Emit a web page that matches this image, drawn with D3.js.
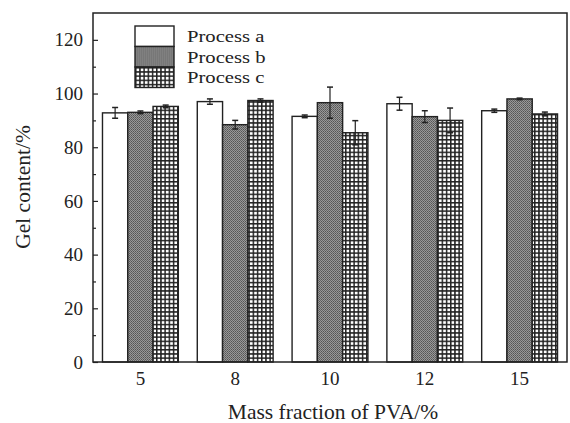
<!DOCTYPE html>
<html>
<head>
<meta charset="utf-8">
<script src="https://cdn.jsdelivr.net/npm/d3@7"></script>
<style>
  body { margin: 0; background: #fff; }
  text { font-family: "Liberation Serif", "Times New Roman", serif; fill: #222; }
</style>
</head>
<body>
<div id="chart"></div>
<script>
// data
const massFractions = ["5", "8", "10", "12", "15"];
const processes = ["Process a", "Process b", "Process c"];
const processA = [92.8, 97.0, 91.5, 96.2, 93.6];
const processB = [93.0, 88.4, 96.6, 91.4, 98.0];
const processC = [95.2, 97.4, 85.4, 90.0, 92.4];
const errA = [2.0, 1.0, 0.5, 2.4, 0.6];
const errB = [0.5, 1.6, 5.8, 2.2, 0.3];
const errC = [0.5, 0.6, 4.5, 4.6, 0.7];
const yTicks = [0, 20, 40, 60, 80, 100, 120];
const yMinor = [10, 30, 50, 70, 90, 110];

const W = 570, H = 423;
const margin = { top: 13, right: 3, bottom: 61, left: 93 },
  width = W - margin.left - margin.right,
  height = H - margin.top - margin.bottom;

const svg = d3
  .select("#chart")
  .append("svg")
  .attr("width", W)
  .attr("height", H);

// patterns for the three processes
const defs = svg.append("defs");
const pb = defs.append("pattern")
  .attr("id", "patB")
  .attr("patternUnits", "userSpaceOnUse")
  .attr("width", 2)
  .attr("height", 2);
pb.append("rect").attr("width", 2).attr("height", 2).attr("fill", "#999");
pb.append("rect").attr("width", 1).attr("height", 1).attr("fill", "#555");
pb.append("rect").attr("x", 1).attr("y", 1).attr("width", 1).attr("height", 1).attr("fill", "#666");

const pc = defs.append("pattern")
  .attr("id", "patC")
  .attr("patternUnits", "userSpaceOnUse")
  .attr("width", 4.2)
  .attr("height", 4.2);
pc.append("rect").attr("width", 4.2).attr("height", 4.2).attr("fill", "#fff");
pc.append("rect").attr("width", 4.2).attr("height", 1.5).attr("fill", "#222");
pc.append("rect").attr("width", 1.5).attr("height", 4.2).attr("fill", "#222");

const fills = ["#fff", "url(#patB)", "url(#patC)"];

const g = svg.append("g")
  .attr("transform", "translate(" + margin.left + "," + margin.top + ")");

const x = d3.scaleBand()
  .domain(massFractions)
  .range([0, width])
  .paddingInner(0.2)
  .paddingOuter(0.1);

const xSub = d3.scaleBand()
  .domain(processes)
  .range([0, x.bandwidth()]);

const y = d3.scaleLinear().domain([0, 130]).range([height, 0]);

// build rows
const values = [processA, processB, processC];
const errs = [errA, errB, errC];
const rows = [];
massFractions.forEach((m, i) => {
  processes.forEach((p, j) => {
    rows.push({ m: m, p: p, j: j, v: values[j][i], e: errs[j][i] });
  });
});

// bars
g.selectAll(".bar")
  .data(rows)
  .enter()
  .append("rect")
  .attr("class", "bar")
  .attr("x", d => x(d.m) + xSub(d.p))
  .attr("y", d => y(d.v))
  .attr("width", xSub.bandwidth())
  .attr("height", d => y(0) - y(d.v))
  .attr("fill", d => fills[d.j])
  .attr("stroke", "#222")
  .attr("stroke-width", 1.4);

// error bars
const eb = g.selectAll(".err")
  .data(rows)
  .enter()
  .append("g")
  .attr("class", "err")
  .attr("transform", d => "translate(" + (x(d.m) + xSub(d.p) + xSub.bandwidth() / 2) + ",0)");
eb.append("line")
  .attr("y1", d => y(d.v - d.e))
  .attr("y2", d => y(d.v + d.e))
  .attr("stroke", "#222")
  .attr("stroke-width", 1.2);
eb.append("line")
  .attr("x1", -3).attr("x2", 3)
  .attr("y1", d => y(d.v + d.e))
  .attr("y2", d => y(d.v + d.e))
  .attr("stroke", "#222")
  .attr("stroke-width", 1.5);
eb.append("line")
  .attr("x1", -3).attr("x2", 3)
  .attr("y1", d => y(d.v - d.e))
  .attr("y2", d => y(d.v - d.e))
  .attr("stroke", "#222")
  .attr("stroke-width", 1.5);

// y axis, ticks pointing inward
g.append("g")
  .call(d3.axisLeft(y).tickValues(yTicks).tickSizeInner(-5).tickSizeOuter(0).tickPadding(10))
  .call(a => a.select(".domain").remove())
  .call(a => a.selectAll("line").attr("stroke", "#222").attr("stroke-width", 1.2))
  .call(a => a.selectAll("text").style("font-size", "19px").attr("fill", "#222"));

g.append("g")
  .call(d3.axisLeft(y).tickValues(yMinor).tickSizeInner(-3).tickSizeOuter(0).tickFormat(""))
  .call(a => a.select(".domain").remove())
  .call(a => a.selectAll("line").attr("stroke", "#222").attr("stroke-width", 1.2));

// x axis
g.append("g")
  .attr("transform", "translate(0," + height + ")")
  .call(d3.axisBottom(x).tickSize(0).tickPadding(10))
  .call(a => a.select(".domain").remove())
  .call(a => a.selectAll("text").style("font-size", "19px").attr("fill", "#222"));

// frame
g.append("rect")
  .attr("width", width)
  .attr("height", height)
  .attr("fill", "none")
  .attr("stroke", "#222")
  .attr("stroke-width", 1.5);

// axis titles
svg.append("text")
  .attr("x", 333)
  .attr("y", 419)
  .attr("text-anchor", "middle")
  .style("font-size", "21.5px")
  .text("Mass fraction of PVA/%");

svg.append("text")
  .attr("transform", "translate(30,187) rotate(-90)")
  .attr("text-anchor", "middle")
  .style("font-size", "21.5px")
  .text("Gel content/%");

// legend
const legend = svg.append("g")
  .attr("transform", "translate(135,26)");
const li = legend.selectAll(".li")
  .data(processes)
  .enter()
  .append("g")
  .attr("transform", (d, i) => "translate(0," + i * 20.5 + ")");
li.append("rect")
  .attr("width", 39)
  .attr("height", 20.5)
  .attr("fill", (d, i) => fills[i])
  .attr("stroke", "#222")
  .attr("stroke-width", 1.4);
li.append("text")
  .attr("transform", "translate(52,16) scale(1.18,1)")
  .style("font-size", "17.5px")
  .text(d => d);
</script>
</body>
</html>
